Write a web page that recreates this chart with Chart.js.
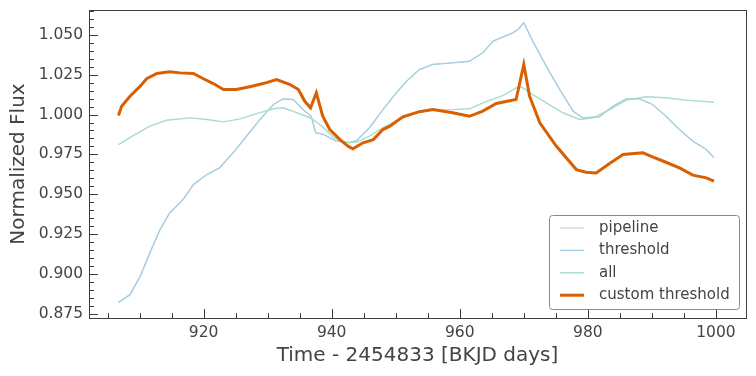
<!DOCTYPE html>
<html>
<head>
<meta charset="utf-8">
<script src="https://cdn.jsdelivr.net/npm/chart.js@4.4.1/dist/chart.umd.min.js"></script>
<style>
  html, body { margin: 0; padding: 0; background: #fff; }
  #wrap { width: 756px; height: 376px; }
</style>
</head>
<body>
<div id="wrap"><canvas id="myChart" width="756" height="376"></canvas></div>
<script>
// values
var thresholdTime = [906.7, 908.5, 910.1, 911.6, 913.2, 914.7, 916.8, 918.4, 920.5, 922.5, 924.6, 926.7, 928.8, 930.9, 932.4, 934.0, 935.5, 936.8, 937.5, 938.7, 940.7, 942.8, 943.9, 945.9, 948.0, 950.1, 951.7, 953.7, 955.8, 958.9, 961.5, 963.6, 965.2, 968.3, 969.1, 970.0, 971.4, 973.5, 975.6, 977.7, 979.2, 981.8, 983.9, 986.0, 988.1, 990.1, 992.2, 994.3, 996.4, 998.5, 999.7];
var thresholdFlux = [0.8823, 0.8871, 0.8986, 0.9133, 0.9279, 0.9383, 0.9467, 0.9561, 0.9624, 0.9666, 0.9760, 0.9864, 0.9969, 1.0063, 1.0098, 1.0094, 1.0031, 0.9989, 0.9887, 0.9875, 0.9833, 0.9823, 0.9837, 0.9917, 1.0031, 1.0136, 1.0209, 1.0282, 1.0314, 1.0324, 1.0334, 1.0387, 1.0460, 1.0512, 1.0533, 1.0575, 1.0460, 1.0303, 1.0157, 1.0021, 0.9979, 0.9986, 1.0052, 1.0098, 1.0098, 1.0063, 0.9989, 0.9906, 0.9833, 0.9781, 0.9729];

// pipeline sits under the threshold curve
var pipelineTime = thresholdTime.slice();
var pipelineFlux = thresholdFlux.slice();

var allTime = [906.7, 909.0, 911.6, 914.2, 917.9, 920.5, 923.1, 925.7, 928.3, 930.9, 932.4, 933.5, 936.6, 937.6, 938.7, 940.4, 941.8, 943.9, 945.9, 947.5, 950.1, 953.7, 955.8, 958.9, 961.5, 964.2, 966.7, 968.8, 969.6, 971.4, 973.5, 976.1, 978.7, 980.8, 983.4, 986.0, 989.1, 992.2, 995.3, 999.7];
var allFlux = [0.9812, 0.9868, 0.9927, 0.9964, 0.9979, 0.9969, 0.9954, 0.9973, 1.0006, 1.0036, 1.0042, 1.0027, 0.9980, 0.9955, 0.9918, 0.9854, 0.9826, 0.9826, 0.9864, 0.9906, 0.9962, 1.0015, 1.0028, 1.0031, 1.0036, 1.0083, 1.0119, 1.0167, 1.0174, 1.0125, 1.0073, 1.0011, 0.9969, 0.9979, 1.0031, 1.0090, 1.0111, 1.0105, 1.0090, 1.0077];

var customTime = [906.7, 907.2, 908.5, 910.1, 911.1, 912.7, 914.7, 916.3, 918.4, 919.9, 921.5, 923.1, 925.1, 927.2, 929.3, 931.4, 933.5, 934.8, 935.8, 936.7, 937.6, 938.6, 939.7, 941.3, 942.6, 943.3, 944.9, 946.5, 948.0, 949.1, 951.1, 953.7, 955.8, 958.9, 961.5, 963.6, 965.7, 968.8, 970.0, 970.9, 972.5, 975.1, 978.2, 979.7, 981.3, 983.4, 985.5, 988.6, 990.1, 992.2, 994.3, 996.4, 998.5, 999.7];
var customFlux = [0.9994, 1.0052, 1.0115, 1.0178, 1.0224, 1.0257, 1.0268, 1.0261, 1.0257, 1.0226, 1.0194, 1.0157, 1.0157, 1.0174, 1.0194, 1.0219, 1.0188, 1.0157, 1.0083, 1.0042, 1.0136, 0.9990, 0.9906, 0.9843, 0.9800, 0.9785, 0.9823, 0.9843, 0.9906, 0.9927, 0.9986, 1.0018, 1.0031, 1.0011, 0.9989, 1.0021, 1.0069, 1.0094, 1.0314, 1.0115, 0.9948, 0.9801, 0.9655, 0.9638, 0.9634, 0.9693, 0.9749, 0.9760, 0.9735, 0.9701, 0.9666, 0.9620, 0.9603, 0.9582];

var xTicks = [920, 940, 960, 980, 1000];
var yTicks = [0.875, 0.900, 0.925, 0.950, 0.975, 1.000, 1.025, 1.050];

var xMin = 902.1, xMax = 1004.7;
var yMin = 0.8725, yMax = 1.0655;

var textColor = '#444444';
var fontName = "'DejaVu Sans', sans-serif";

function pts(t, f) {
  return t.map(function (v, i) { return {x: v, y: f[i]}; });
}

// ticks pointing inward plus a full frame round the axes
const frameTicks = {
  id: 'frameTicks',
  afterDatasetsDraw(chart) {
    const ctx = chart.ctx, a = chart.chartArea;
    const x = chart.scales.x, y = chart.scales.y;
    ctx.save();
    ctx.strokeStyle = '#3c3c3c';
    ctx.lineWidth = 1;
    ctx.beginPath();
    for (let i = Math.ceil(xMin / 5); i * 5 <= xMax; i++) {
      const px = Math.round(x.getPixelForValue(i * 5)) + 0.5;
      const len = (i % 4 === 0) ? 9 : 5;
      ctx.moveTo(px, a.bottom);
      ctx.lineTo(px, a.bottom - len);
    }
    for (let i = Math.ceil(yMin / 0.005 - 1e-6); i * 0.005 <= yMax; i++) {
      const py = Math.round(y.getPixelForValue(i * 0.005)) + 0.5;
      const len = (i % 5 === 0) ? 9 : 5;
      ctx.moveTo(a.left, py);
      ctx.lineTo(a.left + len, py);
    }
    ctx.stroke();
    ctx.strokeRect(Math.round(a.left) + 0.5, Math.round(a.top) + 0.5,
      Math.round(a.right - a.left), Math.round(a.bottom - a.top));
    ctx.restore();
  }
};

// legend box in the lower right corner, matplotlib style
const cornerLegend = {
  id: 'cornerLegend',
  afterDraw(chart) {
    const ctx = chart.ctx, a = chart.chartArea;
    const sets = chart.data.datasets;
    const w = 190, h = 94;
    const bx = a.right - 7 - w, by = a.bottom - 9 - h;
    ctx.save();
    ctx.beginPath();
    ctx.roundRect(bx + 0.5, by + 0.5, w, h, 3);
    ctx.fillStyle = 'rgba(255,255,255,0.85)';
    ctx.fill();
    ctx.strokeStyle = '#8a8a8a';
    ctx.lineWidth = 1;
    ctx.stroke();
    ctx.font = '15px ' + fontName;
    ctx.textBaseline = 'middle';
    ctx.fillStyle = textColor;
    sets.forEach(function (ds, i) {
      const cy = by + 13 + i * 22.4;
      ctx.beginPath();
      ctx.strokeStyle = ds.borderColor;
      ctx.lineWidth = ds.borderWidth;
      ctx.moveTo(bx + 11, cy);
      ctx.lineTo(bx + 35, cy);
      ctx.stroke();
      ctx.fillText(ds.label, bx + 50, cy);
    });
    ctx.restore();
  }
};

new Chart(document.getElementById('myChart'), {
  type: 'line',
  data: {
    datasets: [
      { label: 'pipeline', data: pts(pipelineTime, pipelineFlux), borderColor: '#c8c8c8', borderWidth: 1, order: 3 },
      { label: 'threshold', data: pts(thresholdTime, thresholdFlux), borderColor: '#a6cee3', borderWidth: 1.4, order: 2 },
      { label: 'all', data: pts(allTime, allFlux), borderColor: '#a8dccb', borderWidth: 1.4, order: 1 },
      { label: 'custom threshold', data: pts(customTime, customFlux), borderColor: '#d95f02', borderWidth: 3, order: 0 }
    ]
  },
  options: {
    responsive: false,
    animation: false,
    elements: { point: { radius: 0 }, line: { tension: 0 } },
    layout: { padding: { top: 10, right: 10, left: 0, bottom: 0 } },
    plugins: { legend: { display: false }, tooltip: { enabled: false } },
    scales: {
      x: {
        type: 'linear',
        min: xMin, max: xMax,
        afterBuildTicks: function (s) { s.ticks = xTicks.map(function (v) { return {value: v}; }); },
        afterFit: function (s) { s.height = 58; s.paddingLeft = 0; s.paddingRight = 0; },
        grid: { display: false, drawTicks: false },
        border: { display: false },
        ticks: { color: textColor, padding: 6, font: { family: fontName, size: 15.5 }, maxRotation: 0,
                 callback: function (v) { return String(v); } },
        title: { display: true, text: 'Time - 2454833 [BKJD days]', color: textColor,
                 font: { family: fontName, size: 20 }, padding: { top: 0, bottom: 8 } }
      },
      y: {
        type: 'linear',
        min: yMin, max: yMax,
        afterBuildTicks: function (s) { s.ticks = yTicks.map(function (v) { return {value: v}; }); },
        afterFit: function (s) { s.width = 89; s.paddingTop = 0; s.paddingBottom = 0; },
        grid: { display: false, drawTicks: false },
        border: { display: false },
        ticks: { color: textColor, padding: 6, font: { family: fontName, size: 15.5 },
                 callback: function (v) { return v.toFixed(3); } },
        title: { display: true, text: 'Normalized Flux', color: textColor,
                 font: { family: fontName, size: 20 }, padding: { top: 7, bottom: 0 } }
      }
    }
  },
  plugins: [frameTicks, cornerLegend]
});
</script>
</body>
</html>
